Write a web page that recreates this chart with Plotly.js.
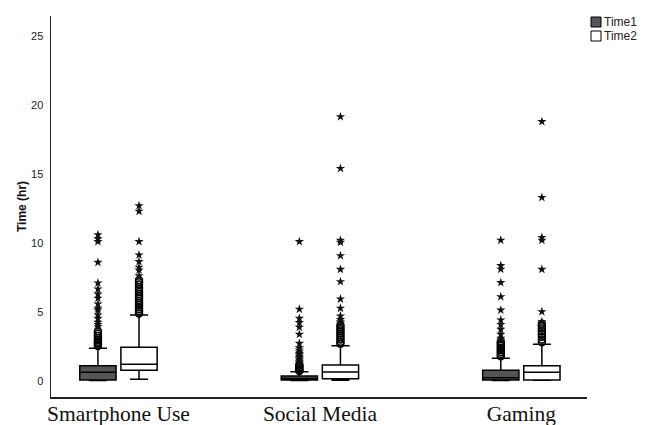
<!DOCTYPE html>
<html>
<head>
<meta charset="utf-8">
<script src="https://cdn.plot.ly/plotly-3.0.1.min.js"></script>
<style>html,body{margin:0;padding:0;background:#fff;}#chart{width:648px;height:425px;}</style>
</head>
<body>
<div id="chart"></div>
<script>
// Categories and series names
const categories = ["Smartphone Use", "Social Media", "Gaming"];
const seriesNames = ["Time1", "Time2"];
const seriesFills = ["#555555", "#ffffff"];

// Box statistics (hours)
const time1Q1 = [0.07, 0.07, 0.07];
const time1Median = [0.63, 0.18, 0.24];
const time1Q3 = [1.11, 0.36, 0.78];
const time1Lower = [0.04, 0.04, 0.04];
const time1Upper = [2.37, 0.67, 1.64];

const time2Q1 = [0.78, 0.17, 0.07];
const time2Median = [1.21, 0.65, 0.63];
const time2Q3 = [2.44, 1.16, 1.11];
const time2Lower = [0.12, 0.05, 0.05];
const time2Upper = [4.78, 2.56, 2.66];

// Outliers (circles) and extreme values (stars), per category
const time1Circles = [
  [2.54, 2.65, 2.73, 2.85, 2.97, 3.1, 3.28, 3.45, 3.62],
  [0.72, 0.8, 0.9, 1.0, 1.1, 1.2],
  [1.8, 1.95, 2.1, 2.25, 2.4, 2.55, 2.7, 2.85]
];
const time1Stars = [
  [3.93, 4.1, 4.25, 4.54, 4.78, 5.14, 5.27, 5.58, 6.0, 6.3, 6.67, 7.1, 8.6, 10.1, 10.3, 10.6],
  [1.3, 1.4, 1.5, 1.6, 1.7, 1.8, 1.9, 2.0, 2.1, 2.25, 2.4, 2.73, 3.38, 3.9, 4.23, 4.54, 5.2, 10.1],
  [2.97, 3.1, 3.38, 3.74, 4.1, 4.42, 5.14, 6.11, 7.13, 8.1, 8.36, 10.2]
];
const time2Circles = [
  [4.9, 5.05, 5.2, 5.35, 5.5, 5.65, 5.8, 6.0, 6.15, 6.3, 6.45, 6.64, 6.8, 7.0, 7.15, 7.32],
  [2.7, 2.85, 3.0, 3.15, 3.3, 3.45, 3.6, 3.75, 3.9, 4.05],
  [2.8, 3.0, 3.2, 3.4, 3.6, 3.8, 4.0, 4.15]
];
const time2Stars = [
  [7.63, 8.04, 8.24, 8.65, 9.13, 10.1, 12.3, 12.7],
  [4.2, 4.3, 4.45, 4.71, 5.27, 5.94, 7.2, 8.09, 9.08, 10.05, 10.2, 15.4, 19.15],
  [4.3, 5.02, 8.09, 10.2, 10.4, 13.3, 18.8]
];

const boxWidth = 0.18;
const offsets = [-0.102, 0.102];
const catIdx = categories.map((c, i) => i);

function boxTrace(name, i, q1, med, q3, lo, hi) {
  return {
    type: "box", name: name,
    x: catIdx.map(k => k + offsets[i]),
    q1: q1, median: med, q3: q3, lowerfence: lo, upperfence: hi,
    width: boxWidth, whiskerwidth: 0.5,
    fillcolor: seriesFills[i], line: {color: "#000", width: 1.5},
    boxpoints: false, hoverinfo: "skip", showlegend: false
  };
}

function pointTrace(vals, i, symbol) {
  const xs = [], ys = [];
  vals.forEach((arr, k) => arr.forEach(v => { xs.push(k + offsets[i]); ys.push(v); }));
  return {
    type: "scatter", mode: "markers", x: xs, y: ys, showlegend: false, hoverinfo: "skip",
    marker: symbol === "star"
      ? {symbol: "star", size: 7, color: "#111", line: {width: 0}}
      : {symbol: "circle-open", size: 7, color: "#000", line: {width: 1.5}}
  };
}

const data = [
  boxTrace(seriesNames[0], 0, time1Q1, time1Median, time1Q3, time1Lower, time1Upper),
  boxTrace(seriesNames[1], 1, time2Q1, time2Median, time2Q3, time2Lower, time2Upper),
  pointTrace(time1Circles, 0, "circle"),
  pointTrace(time1Stars, 0, "star"),
  pointTrace(time2Circles, 1, "circle"),
  pointTrace(time2Stars, 1, "star")
];

// Manual legend (paper coordinates) so the plot area is not shrunk
const plotL = 51, plotR = 587, plotT = 16, plotB = 397;
const px = x => (x - plotL) / (plotR - plotL);
const py = y => (plotB - y) / (plotB - plotT);
const shapes = [], annotations = [];
seriesNames.forEach((n, i) => {
  const top = 17 + i * 14;
  shapes.push({type: "rect", xref: "paper", yref: "paper",
    x0: px(591), x1: px(601), y0: py(top + 10), y1: py(top),
    fillcolor: seriesFills[i], line: {color: "#000", width: 1}});
  annotations.push({xref: "paper", yref: "paper", x: px(602), y: py(top + 5),
    xanchor: "left", yanchor: "middle", showarrow: false, text: n,
    font: {family: "Liberation Sans, Arial", size: 12, color: "#222"}});
});

const layout = {
  width: 648, height: 425,
  margin: {l: plotL, r: 648 - plotR, t: plotT, b: 425 - plotB},
  paper_bgcolor: "#fff", plot_bgcolor: "#fff",
  boxmode: "overlay",
  showlegend: false,
  shapes: shapes, annotations: annotations,
  xaxis: {
    range: [-0.335, 2.326], tickmode: "array", tickvals: catIdx, ticktext: categories,
    showgrid: false, zeroline: false, showline: true, linecolor: "#222", linewidth: 1.5,
    ticks: "", ticklabelstandoff: -3,
    tickfont: {family: "Liberation Serif, Times New Roman", size: 21.5, color: "#111"},
    fixedrange: true
  },
  yaxis: {
    range: [-1.16, 26.45], tickvals: [0, 5, 10, 15, 20, 25],
    showgrid: false, zeroline: false, showline: true, linecolor: "#222", linewidth: 1.5,
    ticks: "", ticklabelstandoff: 4,
    tickfont: {family: "Liberation Sans, Arial", size: 11, color: "#222"},
    title: {text: "<b>Time (hr)</b>", font: {family: "Liberation Sans, Arial", size: 12, color: "#111"}, standoff: 2},
    fixedrange: true
  }
};

Plotly.newPlot("chart", data, layout, {displayModeBar: false, staticPlot: true});
</script>
</body>
</html>
